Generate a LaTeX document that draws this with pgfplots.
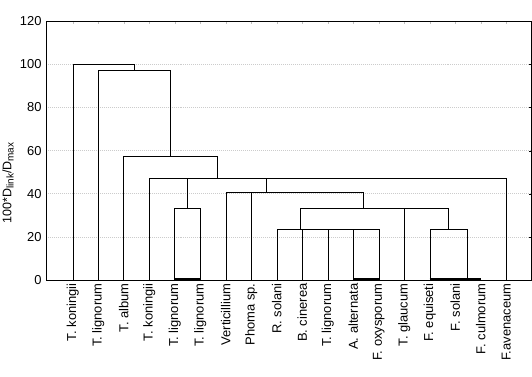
\documentclass[border=0pt]{standalone}
\usepackage{fontspec}
\setmainfont{Liberation Sans}
\usepackage{pgfplots}
\pgfplotsset{compat=1.18}
\newcommand{\sub}[1]{\raisebox{-0.35ex}{\fontsize{10}{12}\selectfont #1}}
\begin{document}
\begin{tikzpicture}
\useasboundingbox (0,0) rectangle (532bp,377bp);
\begin{axis}[
  at={(46bp,97bp)}, anchor=south west,
  scale only axis, width=485.7bp, height=258.7bp,
  xmin=-0.05, xmax=19, ymin=0, ymax=120,
  ytick={0,20,40,60,80,100,120},
  xtick={1,...,18},
  xticklabels={T. koningii,T. lignorum,T. album,T. koningii,T. lignorum,T. lignorum,Verticillium,Phoma sp.,R. solani,B. cinerea,T. lignorum,A. alternata,F. oxysporum,T. glaucum,F. equiseti,F. solani,F. culmorum,F.avenaceum},
  xtick pos=upper, xticklabel pos=lower,
  ytick pos=right, yticklabel pos=left,
  tick align=inside, major tick length=3bp,
  xtick style={draw=gray!50},
  ytick style={draw=black},
  axis line style={line width=0.9pt},
  ymajorgrids, grid style={gray!40, dash pattern=on 1pt off 1pt, line width=0.6pt},
  /pgf/number format/assume math mode=true,
  tick label style={font=\fontsize{13}{15}\selectfont},
  xticklabel style={rotate=90, anchor=east},
  yticklabel style={xshift=-1bp},
  ylabel={100*D\sub{link}/D\sub{max}},
  ylabel style={font=\fontsize{12.5}{15}\selectfont, at={(axis description cs:-0.078,0.375)}, anchor=center, rotate=0},
  cycle list={{black, solid, line width=0.9pt, mark=none}},
]
\addplot coordinates {(1,0) (1,100) (3.42,100) (3.42,97.3)};
\addplot coordinates {(2,0) (2,97.3) (4.83,97.3) (4.83,57.5)};
\addplot coordinates {(3,0) (3,57.5) (6.67,57.5) (6.67,47.2)};
\addplot coordinates {(4,0) (4,47.2) (18,47.2) (18,0)};
\addplot coordinates {(5.5,33.3) (5.5,47.2)};
\addplot coordinates {(8.6,40.7) (8.6,47.2)};
\addplot coordinates {(5,0) (5,33.3) (6,33.3) (6,0)};
\addplot coordinates {(7,0) (7,40.7) (12.41,40.7) (12.41,33.3)};
\addplot coordinates {(8,0) (8,40.7)};
\addplot coordinates {(9.93,23.5) (9.93,33.3) (15.73,33.3) (15.73,23.5)};
\addplot coordinates {(14,0) (14,33.3)};
\addplot coordinates {(9,0) (9,23.5) (13,23.5) (13,0)};
\addplot coordinates {(10,0) (10,23.5)};
\addplot coordinates {(11,0) (11,23.5)};
\addplot coordinates {(12,0) (12,23.5)};
\addplot coordinates {(15,0) (15,23.5) (16.47,23.5) (16.47,0)};
\addplot[black, line width=1.5pt] coordinates {(5,0.5) (6,0.5)};
\addplot[black, line width=1.5pt] coordinates {(12,0.5) (13,0.5)};
\addplot[black, line width=1.5pt] coordinates {(15,0.5) (17,0.5)};
\end{axis}
\end{tikzpicture}
\end{document}
